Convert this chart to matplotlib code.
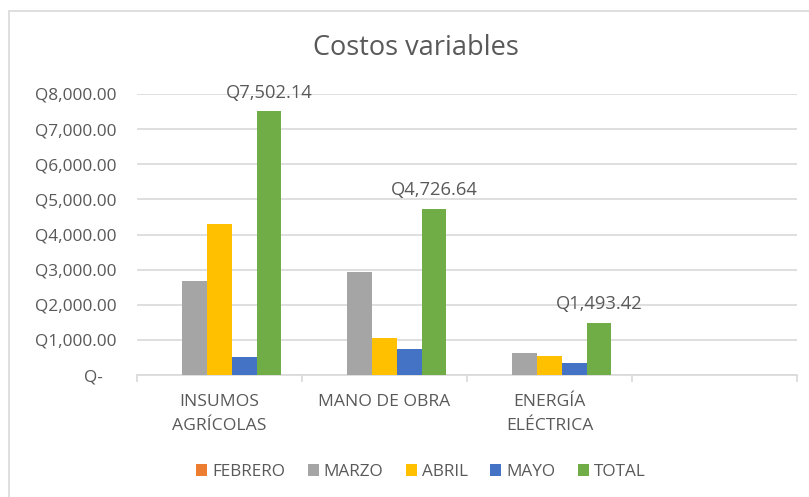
import numpy as np
import matplotlib.pyplot as plt
from matplotlib.patches import Rectangle
from matplotlib.ticker import FuncFormatter

plt.rcParams['font.family'] = ['Open Sans', 'DejaVu Sans']

# datos
categorias = ["INSUMOS\nAGRÍCOLAS", "MANO DE OBRA", "ENERGÍA\nELÉCTRICA", ""]
series = ["FEBRERO", "MARZO", "ABRIL", "MAYO", "TOTAL"]
febrero = [0, 0, 0, 0]
marzo = [2680, 2940, 625, 0]
abril = [4300, 1060, 540, 0]
mayo = [522.14, 726.64, 328.42, 0]
total = [7502.14, 4726.64, 1493.42, 0]
colores = ["#ED7D31", "#A5A5A5", "#FFC000", "#4472C4", "#70AD47"]
texto = "#595959"

W, H = 809, 497
fig = plt.figure(figsize=(W / 100, H / 100), dpi=100)
ax = fig.add_axes([137 / W, 1 - 375 / H, 660 / W, 281 / H])

# borde del area del grafico
fig.patches.append(Rectangle((9 / W, -0.1), 1.2, 1 - 11 / H + 0.1, transform=fig.transFigure,
                             fill=False, edgecolor="#D9D9D9", linewidth=1.2))

x = np.arange(len(categorias))
ancho = 0.15
datos = [febrero, marzo, abril, mayo, total]
for i, (nombre, vals) in enumerate(zip(series, datos)):
    pos = x + (i - 2) * ancho
    ax.bar(pos, vals, ancho, color=colores[i], label=nombre, zorder=3)
    if nombre == "TOTAL":
        for p, v in zip(pos, vals):
            if v > 0:
                ax.text(p, v + 280, f"Q{v:,.2f}", ha="center", va="bottom",
                        fontsize=13.2, color=texto)

ax.set_xlim(-0.5, len(categorias) - 0.5)
ax.set_ylim(0, 8000)
ax.set_yticks(np.arange(0, 8001, 1000))
ax.yaxis.set_major_formatter(FuncFormatter(lambda v, _: "Q-   " if v == 0 else f"Q{v:,.2f}"))
ax.grid(axis="y", color="#D9D9D9", linewidth=1.2, zorder=0)
ax.set_axisbelow(True)

for s in ["top", "right", "left"]:
    ax.spines[s].set_visible(False)
ax.spines["bottom"].set_color("#D9D9D9")
ax.spines["bottom"].set_linewidth(1.2)

ax.set_xticks(x)
ax.set_xticklabels(categorias, fontsize=12.6, color=texto, linespacing=1.6)
ax.tick_params(axis="x", length=0, pad=14)
ax.set_xticks(np.arange(-0.5, len(categorias)), minor=True)
ax.tick_params(axis="x", which="minor", length=5, color="#D9D9D9", width=1.2)
ax.tick_params(axis="y", length=0, labelsize=12.4, labelcolor=texto, pad=15)

fig.text(416 / W, 1 - 48 / H, "Costos variables", ha="center", va="center",
         fontsize=19.5, color=texto)

fig.legend(loc="center", bbox_to_anchor=(421 / W, 1 - 472 / H), ncol=5, frameon=False,
           fontsize=12.3, labelcolor=texto, handlelength=0.65, handleheight=0.65,
           handletextpad=0.3, columnspacing=1.3)

fig.savefig("out.png", dpi=100)
